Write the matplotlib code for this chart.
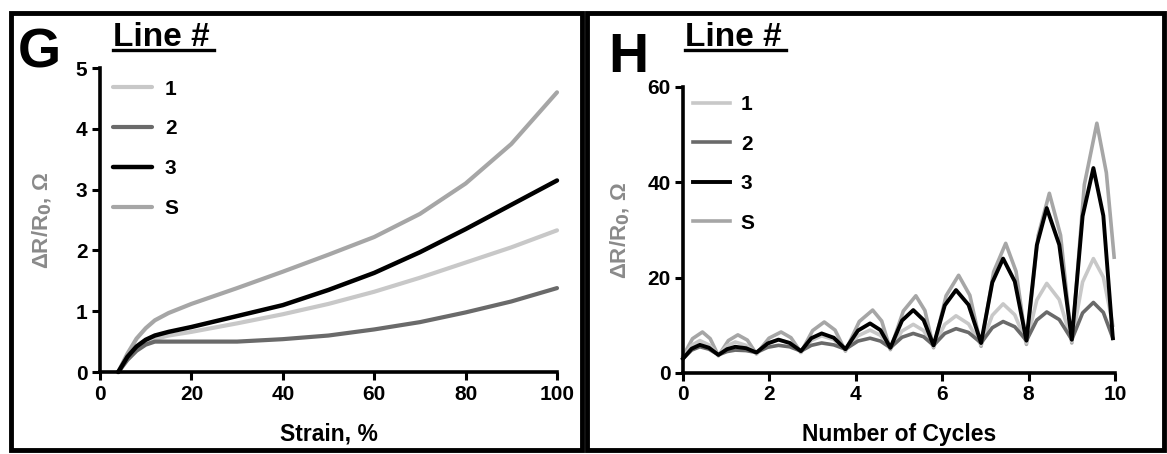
import matplotlib
matplotlib.use("Agg")
import matplotlib.pyplot as plt
from matplotlib.lines import Line2D
from matplotlib.patches import Rectangle

plt.rcParams['font.family'] = ['Liberation Sans', 'DejaVu Sans']
plt.rcParams['font.weight'] = 'bold'
plt.rcParams['mathtext.default'] = 'bf'

# ---------------- data: panel G (resistance vs strain) ----------------
strain = [4, 6, 8, 10, 12, 15, 20, 30, 40, 50, 60, 70, 80, 90, 100]
g_line1 = [0, 0.22, 0.38, 0.48, 0.54, 0.60, 0.66, 0.80, 0.95, 1.12, 1.32, 1.55, 1.80, 2.05, 2.33]
g_line2 = [0, 0.20, 0.35, 0.45, 0.50, 0.50, 0.50, 0.50, 0.54, 0.60, 0.70, 0.82, 0.98, 1.16, 1.38]
g_line3 = [0, 0.25, 0.42, 0.53, 0.60, 0.66, 0.74, 0.92, 1.10, 1.35, 1.63, 1.97, 2.35, 2.75, 3.15]
g_lineS = [0, 0.30, 0.55, 0.72, 0.85, 0.97, 1.12, 1.38, 1.65, 1.93, 2.22, 2.60, 3.10, 3.75, 4.60]

# ---------------- data: panel H (resistance vs cycles) ----------------
cycles = [0, 0.20, 0.39, 0.60, 0.82, 1.02, 1.21, 1.46, 1.70, 1.96, 2.21, 2.47, 2.73, 2.97,
          3.21, 3.49, 3.76, 4.05, 4.33, 4.57, 4.80, 5.07, 5.33, 5.57, 5.80, 6.06, 6.32,
          6.61, 6.90, 7.16, 7.41, 7.68, 7.95, 8.19, 8.42, 8.71, 9.00, 9.25, 9.50, 9.73, 9.95]
cycles_S = [0, 0.22, 0.45, 0.63, 0.82, 1.05, 1.27, 1.49, 1.70, 1.99, 2.27, 2.50, 2.73, 3.00,
            3.27, 3.52, 3.76, 4.08, 4.39, 4.60, 4.80, 5.10, 5.39, 5.60, 5.80, 6.09, 6.38,
            6.64, 6.90, 7.19, 7.47, 7.71, 7.95, 8.22, 8.48, 8.74, 9.00, 9.29, 9.58, 9.80, 9.98]
h_line1 = [3.2, 5.8, 6.8, 5.9, 3.7, 5.7, 6.5, 5.8, 4.1, 6.2, 7.0, 6.3, 4.4, 6.8, 7.8, 7.0,
           4.8, 7.8, 9.0, 7.9, 5.1, 8.8, 10.2, 8.9, 5.5, 10.2, 12.0, 10.3, 5.9, 12.1, 14.5,
           12.2, 6.3, 15.3, 18.8, 15.4, 6.6, 19.1, 24.0, 20.1, 10.0]
h_line2 = [3.0, 4.8, 5.5, 5.0, 3.8, 4.5, 4.8, 4.7, 4.3, 5.4, 5.8, 5.5, 4.6, 5.8, 6.3, 5.9,
           5.0, 6.7, 7.3, 6.7, 5.3, 7.5, 8.3, 7.6, 5.8, 8.3, 9.3, 8.5, 6.3, 9.5, 10.8,
           9.7, 6.8, 11.1, 12.8, 11.2, 7.0, 12.6, 14.8, 12.7, 7.3]
h_line3 = [3.0, 5.1, 5.9, 5.3, 3.8, 5.0, 5.5, 5.2, 4.3, 6.2, 7.0, 6.3, 4.6, 7.3, 8.3, 7.4,
           5.0, 8.9, 10.4, 9.0, 5.3, 11.0, 13.2, 11.1, 5.8, 14.2, 17.4, 14.3, 6.3, 19.0, 24.0,
           19.2, 6.8, 26.8, 34.6, 26.9, 7.0, 32.9, 43.0, 33.0, 7.3]
h_lineS = [3.5, 7.2, 8.6, 7.2, 3.6, 6.8, 8.0, 6.9, 4.0, 7.3, 8.6, 7.4, 4.3, 8.9, 10.7, 9.0,
           4.6, 10.8, 13.2, 10.9, 4.9, 13.0, 16.2, 13.1, 5.3, 16.2, 20.5, 16.3, 5.6, 21.2, 27.2,
           21.3, 6.0, 28.8, 37.7, 28.9, 6.3, 39.5, 52.4, 42.0, 24.3]

labels = ['1', '2', '3', 'S']
colors = {'1': '#c8c8c8', '2': '#6a6a6a', '3': '#000000', 'S': '#a6a6a6'}
lwidth = {'1': 3.0, '2': 3.0, '3': 3.2, 'S': 3.0}

g_xticks = [0, 20, 40, 60, 80, 100]
g_yticks = [0, 1, 2, 3, 4, 5]
h_xticks = [0, 2, 4, 6, 8, 10]
h_yticks = [0, 20, 40, 60]

W, H = 1167, 454
fig = plt.figure(figsize=(W / 100, H / 100), dpi=100)
fig.patch.set_facecolor('white')

def px_axes(x0, x1, ytop, ybot):
    return fig.add_axes([x0 / W, (H - ybot) / H, (x1 - x0) / W, (ybot - ytop) / H])

axG = px_axes(100, 557, 68, 372)
axH = px_axes(683, 1115, 87, 373)

def style(ax, xticks, yticks):
    for s in ['top', 'right']:
        ax.spines[s].set_visible(False)
    for s in ['left', 'bottom']:
        ax.spines[s].set_linewidth(2.6)
    ax.set_xticks(xticks)
    ax.set_yticks(yticks)
    ax.set_xlim(xticks[0], xticks[-1])
    ax.set_ylim(yticks[0], yticks[-1])
    ax.tick_params(direction='out', length=6, width=2.2, labelsize=15, pad=3)
    for lab in ax.get_xticklabels() + ax.get_yticklabels():
        lab.set_fontweight('bold')
    ax.patch.set_alpha(0)

# Panel G
series_g = {'S': g_lineS, '1': g_line1, '2': g_line2, '3': g_line3}
hand_g = {}
for k in ['S', '1', '2', '3']:
    ln, = axG.plot(strain, series_g[k], color=colors[k], lw=lwidth[k],
                   solid_capstyle='round', clip_on=False)
    hand_g[k] = ln
style(axG, g_xticks, g_yticks)
axG.set_xlabel('Strain, %', fontsize=16.5, fontweight='bold')
axG.xaxis.set_label_coords(0.5, -0.165)
axG.set_ylabel('ΔR/R$_0$, Ω', fontsize=16, fontweight='bold', color='#8a8a8a')
axG.yaxis.set_label_coords(-0.1, 0.5)
axG.legend([hand_g[k] for k in labels], labels, loc='upper left',
           bbox_to_anchor=(0.028, 0.962), frameon=False, fontsize=15,
           handlelength=1.9, handletextpad=0.6, labelspacing=1.0,
           borderpad=0, borderaxespad=0)

# Panel H
series_h = {'S': (cycles_S, h_lineS), '1': (cycles, h_line1),
            '2': (cycles, h_line2), '3': (cycles, h_line3)}
hand_h = {}
for k in ['S', '1', '2', '3']:
    xs, ys = series_h[k]
    ln, = axH.plot(xs, ys, color=colors[k], lw=lwidth[k] - 0.4, clip_on=False,
                   solid_joinstyle='round')
    hand_h[k] = ln
style(axH, h_xticks, h_yticks)
axH.set_xlabel('Number of Cycles', fontsize=16.5, fontweight='bold')
axH.xaxis.set_label_coords(0.5, -0.175)
axH.set_ylabel('ΔR/R$_0$, Ω', fontsize=16, fontweight='bold', color='#8a8a8a')
axH.yaxis.set_label_coords(-0.118, 0.5)
axH.legend([hand_h[k] for k in labels], labels, loc='upper left',
           bbox_to_anchor=(0.023, 0.971), frameon=False, fontsize=15,
           handlelength=1.8, handletextpad=0.5, labelspacing=0.98,
           borderpad=0, borderaxespad=0)

# Panel frames
def fig_rect(x0, y0, x1, y1):
    fig.add_artist(Rectangle((x0 / W, (H - y1) / H), (x1 - x0) / W, (y1 - y0) / H,
                             transform=fig.transFigure, fill=False,
                             edgecolor='black', linewidth=3.5))
fig_rect(11, 13, 582, 450)
fig_rect(587, 13, 1164, 450)

# Panel letters and legend titles
fig.text(18 / W, 1 - 68 / H, 'G', fontsize=40, fontweight='bold', ha='left', va='baseline')
fig.text(608 / W, 1 - 72 / H, 'H', fontsize=40, fontweight='bold', ha='left', va='baseline')
for x0 in (113, 685):
    fig.text(x0 / W, 1 - 46 / H, 'Line #', fontsize=24, fontweight='bold',
             ha='left', va='baseline')
    fig.add_artist(Line2D([x0 / W, (x0 + 101) / W], [1 - 50 / H, 1 - 50 / H],
                          transform=fig.transFigure, color='black', lw=2.4))

fig.savefig('out.png', dpi=100, facecolor='white')
